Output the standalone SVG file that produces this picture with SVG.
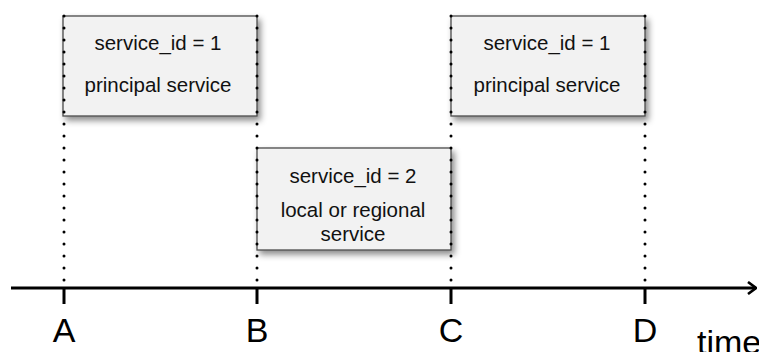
<svg xmlns="http://www.w3.org/2000/svg" width="759" height="352" viewBox="0 0 759 352">
<style>
.box{fill:#f2f2f2;stroke:#4a4a4a;stroke-width:1.3;filter:url(#sh)}
.t{font-family:"Liberation Sans",Arial,sans-serif;font-size:20.5px;fill:#111;text-anchor:middle}
.lbl{font-family:"Liberation Sans",Arial,sans-serif;font-size:34px;fill:#000;text-anchor:middle}
.dot{stroke:#000;stroke-width:3;stroke-linecap:round;stroke-dasharray:0 12;fill:none}
.axis{stroke:#000;stroke-width:3;fill:none}
</style>
<defs>
<filter id="sh" x="-10%" y="-10%" width="130%" height="140%">
<feDropShadow dx="3" dy="4" stdDeviation="3" flood-color="#000" flood-opacity="0.45"/>
</filter>
<marker id="arr" viewBox="0 0 10 14" refX="9" refY="7" markerWidth="10" markerHeight="14" markerUnits="userSpaceOnUse" orient="auto">
<path d="M1,1 L9,7 L1,13" fill="none" stroke="#000" stroke-width="2.6"/>
</marker>
</defs>
<g id="box1">
<rect class="box" x="63" y="16" width="194" height="100"/>
<text class="t" x="158" y="50">service_id = 1</text>
<text class="t" x="158" y="92">principal service</text>
</g>
<g id="box2">
<rect class="box" x="257" y="148" width="194" height="102"/>
<text class="t" x="353" y="183">service_id = 2</text>
<text class="t" x="353" y="217">local or regional</text>
<text class="t" x="353" y="241">service</text>
</g>
<g id="box3">
<rect class="box" x="451" y="16" width="194" height="100"/>
<text class="t" x="547" y="50">service_id = 1</text>
<text class="t" x="547" y="92">principal service</text>
</g>
<g id="connectors">
<line class="dot" x1="64" y1="16" x2="64" y2="286"/>
<line class="dot" x1="257" y1="16" x2="257" y2="286"/>
<line class="dot" x1="451" y1="16" x2="451" y2="286"/>
<line class="dot" x1="645" y1="16" x2="645" y2="286"/>
<line class="axis" x1="11" y1="288" x2="756" y2="288" marker-end="url(#arr)"/>
<line class="axis" x1="64" y1="288" x2="64" y2="304"/>
<line class="axis" x1="257" y1="288" x2="257" y2="304"/>
<line class="axis" x1="451" y1="288" x2="451" y2="304"/>
<line class="axis" x1="645" y1="288" x2="645" y2="304"/>
</g>
<g id="labels">
<text class="lbl" x="64" y="342">A</text>
<text class="lbl" x="257" y="342">B</text>
<text class="lbl" x="451" y="342">C</text>
<text class="lbl" x="645" y="342">D</text>
<text class="lbl" x="697" y="354" style="text-anchor:start">time</text>
</g>
</svg>
